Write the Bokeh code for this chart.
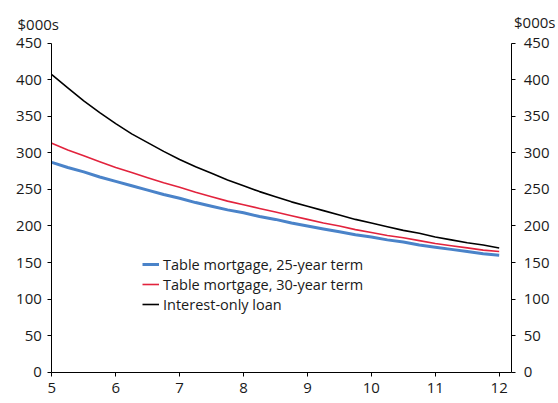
from bokeh.plotting import figure
from bokeh.models import (LinearAxis, Range1d, FixedTicker, Legend, LegendItem, Label)
from bokeh.embed import file_html
from bokeh.resources import INLINE

# Interest rate (%) on x axis
rates = [5, 5.25, 5.5, 5.75, 6, 6.25, 6.5, 6.75, 7, 7.25, 7.5, 7.75, 8, 8.25, 8.5,
         8.75, 9, 9.25, 9.5, 9.75, 10, 10.25, 10.5, 10.75, 11, 11.25, 11.5, 11.75, 12]
# Loan size ($000s)
table_25 = [287, 280, 274, 267, 261, 255, 249, 243, 238, 232, 227, 222, 218, 213, 209,
            204, 200, 196, 192, 188, 185, 181, 178, 174, 171, 168, 165, 162, 160]
table_30 = [313, 304, 296, 288, 280, 273, 266, 259, 253, 246, 240, 234, 229, 224, 219,
            214, 209, 204, 200, 195, 191, 187, 184, 180, 176, 173, 170, 167, 165]
interest_only = [407, 389, 371, 355, 340, 326, 314, 302, 291, 281, 272, 263, 255, 247, 240,
                 233, 227, 221, 215, 209, 204, 199, 194, 190, 185, 181, 177, 174, 170]

series_names = ["Table mortgage, 25-year term", "Table mortgage, 30-year term", "Interest-only loan"]
series_colors = ["#4a83c9", "#e2233d", "#000000"]
series_widths = [3, 1.6, 1.6]

x_ticks = [5, 6, 7, 8, 9, 10, 11, 12]
y_ticks = [0, 50, 100, 150, 200, 250, 300, 350, 400, 450]
unit_label = "$000s"

FONT = "Open Sans"
TXT = "#1a1a1a"

# axis extents (data units)
X_MIN, X_MAX = 5, 12.197
Y_MIN, Y_MAX = 0, 450

# the frame fills the whole canvas so that texts outside the axes are not clipped
p = figure(width=558, height=403, output_backend="svg", toolbar_location=None,
           x_range=Range1d(4.1973, 12.928), y_range=Range1d(-42.8, 508.4),
           min_border=0, min_border_left=0, min_border_right=0,
           min_border_top=0, min_border_bottom=0)
p.outline_line_color = None
p.xgrid.visible = False
p.ygrid.visible = False
p.background_fill_color = "white"
p.border_fill_color = "white"

renderers = []
for vals, c, w in zip([table_25, table_30, interest_only], series_colors, series_widths):
    r = p.line(rates, vals, line_color=c, line_width=w)
    renderers.append(r)

xa = p.xaxis[0]
xa.fixed_location = Y_MIN
xa.bounds = (X_MIN, X_MAX)
xa.ticker = FixedTicker(ticks=x_ticks)
xa.major_tick_out = 4
xa.major_tick_in = 0
xa.minor_tick_line_color = None
xa.axis_line_color = "black"
xa.major_tick_line_color = "black"
xa.major_label_text_font = FONT
xa.major_label_text_font_size = "15px"
xa.major_label_text_color = TXT
xa.major_label_text_align = "left"
xa.major_label_standoff = 7


def style_y(ax, standoff, loc):
    ax.fixed_location = loc
    ax.bounds = (Y_MIN, Y_MAX)
    ax.ticker = FixedTicker(ticks=y_ticks)
    ax.major_tick_out = 4
    ax.major_tick_in = 0
    ax.minor_tick_line_color = None
    ax.axis_line_color = "black"
    ax.major_tick_line_color = "black"
    ax.major_label_text_font = FONT
    ax.major_label_text_font_size = "15px"
    ax.major_label_text_color = TXT
    ax.major_label_standoff = standoff


style_y(p.yaxis[0], 6, X_MIN)
ry = LinearAxis()
style_y(ry, 8, X_MAX)
p.add_layout(ry, "right")

p.add_layout(Label(x=4.463, y=476.3, text=unit_label, text_align="left", text_baseline="middle",
                   text_font=FONT, text_font_size="15px", text_color=TXT))
p.add_layout(Label(x=12.881, y=479.0, text=unit_label, text_align="right", text_baseline="middle",
                   text_font=FONT, text_font_size="15px", text_color=TXT))

legend = Legend(items=[LegendItem(label=n, renderers=[r]) for n, r in zip(series_names, renderers)],
                location=(142, 89), padding=0, margin=0, spacing=0,
                glyph_width=17, glyph_height=20, label_height=20, label_standoff=4,
                label_text_font=FONT, label_text_font_size="14.5px", label_text_color=TXT,
                border_line_alpha=0, background_fill_alpha=0)
p.add_layout(legend, "center")

open("out.html", "w").write(file_html(p, INLINE))
